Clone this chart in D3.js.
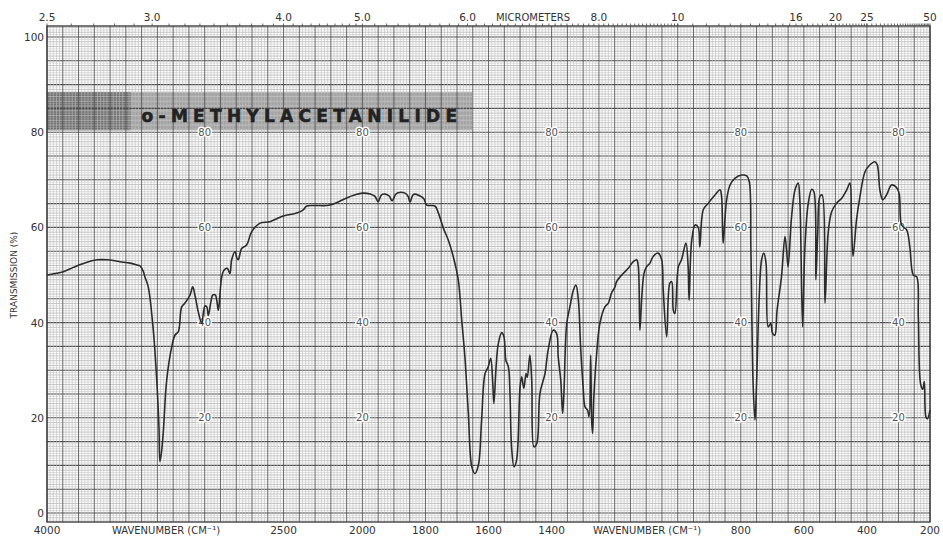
<!DOCTYPE html>
<html><head><meta charset="utf-8">
<script src="https://cdn.jsdelivr.net/npm/d3@7/dist/d3.min.js"></script>
<style>body{margin:0;background:#fff;} svg{display:block;} text{font-family:"DejaVu Sans",sans-serif;}</style>
</head><body><svg id="c" width="943" height="538"></svg>
<script>
// ---- data ----
const wavenumber = [4000,3950,3897,3833,3780,3727,3680,3621,3570,3537,3474,3430,3410,3390,3379,3358,3326,3304,3290,3284,3275,3263,3241,3209,3188,3167,3146,3125,3093,3076,3062,3041,3019,3009,2998,2987,2977,2960,2949,2933,2914,2908,2892,2878,2857,2840,2829,2808,2795,2787,2765,2734,2702,2649,2586,2502,2417,2375,2353,2300,2205,2100,2050,2000,1975,1960,1950,1940,1928,1915,1906,1895,1887,1865,1855,1849,1840,1833,1817,1805,1796,1770,1759,1743,1728,1712,1696,1685,1675,1664,1653,1643,1632,1622,1611,1601,1593,1587,1583,1576,1569,1558,1551,1545,1537,1532,1527,1519,1511,1500,1495,1488,1481,1477,1469,1463,1456,1447,1437,1421,1411,1395,1384,1379,1371,1365,1361,1352,1342,1331,1323,1315,1308,1300,1294,1286,1281,1276,1273,1270,1266,1257,1247,1231,1220,1210,1199,1194,1183,1173,1157,1141,1130,1125,1120,1114,1107,1099,1088,1078,1062,1051,1046,1035,1025,1019,1014,1009,998,988,974,967,964,956,945,935,930,919,903,882,866,861,856,845,834,819,797,781,773,768,761,755,750,742,734,727,720,713,705,699,692,685,671,660,655,650,639,628,618,613,604,597,586,575,568,562,556,549,542,533,523,512,496,480,464,454,449,444,433,422,406,391,375,367,359,350,338,322,308,298,290,274,264,253,242,237,230,223,218,213,208,200];
const transmission = [50.0,50.3,50.7,51.6,52.3,52.9,53.2,53.2,53.0,52.8,52.5,52.1,51.9,50.8,49.6,47.5,38.4,27.9,18,10.8,12.5,16.8,27.9,34.9,37.4,38.1,43.3,44.1,45.8,47.5,45.8,42.3,39.8,41.9,43.5,43.3,41.5,44.5,45.8,45.8,42.6,44.0,49.6,51.0,51.4,50.3,53.2,54.9,53.5,53.2,55.6,56.3,59.1,60.9,61.2,62.4,63.0,63.7,64.5,64.6,64.7,66.2,66.8,67.2,67.0,66.5,65.4,66.8,67.0,66.6,65.6,66.9,67.3,67.2,66.5,65.3,66.8,67.0,66.6,66.0,64.7,64.5,63.0,59.8,57.4,53.9,49.0,40.5,32.8,20.9,9.7,8.3,10.1,19.5,29.3,30.7,32.5,27.9,23.0,30.7,35.6,37.9,37.0,32.1,30.7,25.1,13.9,9.7,11.1,26.5,28.6,26.2,29.3,28.5,33.2,27.9,13.9,14.6,25.1,29.3,34.2,38.4,37.7,32.8,27.9,20.9,25.1,39.8,43.3,46.8,47.9,44.7,34.9,26.5,22.3,21.6,20.2,33.2,19.5,16.7,24.4,33.5,39.8,43.3,44.1,46.2,47.5,48.6,49.6,50.3,51.4,52.8,53.2,51.8,38.4,45.4,50.3,51.7,52.5,53.9,54.6,53.2,46.8,37.0,48.3,48.6,42.6,41.9,51.7,53.2,56.7,51.7,44.7,57.0,60.5,60.0,55.9,63.7,65.1,66.8,67.9,66.5,56.7,65.8,68.9,70.3,71.0,70.8,69.6,55.3,27.2,19.5,27.2,44.7,53.2,54.6,52.5,39.1,39.8,37.7,37.4,42.6,49.6,58.1,55.3,51.7,62.2,67.9,69.3,66.0,39.1,55.3,65.1,68.0,67.5,49.0,58.8,66.5,66.8,44.1,58.8,63.3,65.1,66.1,67.9,69.3,60.9,53.9,61.6,66.5,71.7,73.1,73.8,73.1,67.9,65.8,66.8,68.9,68.5,67.2,60.5,59.5,55.9,50.0,49.6,41.2,27.2,26.0,27.6,20.2,19.8,21.6];
const yTickValues = [0,20,40,60,80,100];
const bottomTickLabels = [4000,2500,2000,1800,1600,1400,800,600,400,200];
const topTickLabels = ["2.5","3.0","4.0","5.0","6.0","8.0","10","16","20","25","50"];
const innerLabelColumns = [3000,2000,1400,800,300];
const innerLabelValues = [20,40,60,80];
const chartTitle = "o-METHYLACETANILIDE";

// ---- scales ----
const x = d3.scaleLinear().domain([4000,2000,200]).range([47,362.4,930]);
const y = d3.scaleLinear().domain([0,100]).range([513,37]);
const plotTop = 26, plotBottom = 522, plotLeft = x(4000), plotRight = x(200);
const svg = d3.select("#c");
svg.append("rect").attr("width",943).attr("height",538).attr("fill","#fff");

// title box background (under grid)
const tb = svg.append("g");
tb.append("rect").attr("x",plotLeft).attr("y",y(88.4)).attr("width",x(1652)-plotLeft).attr("height",y(80.4)-y(88.4)).attr("fill","#a6a6a6");
tb.append("rect").attr("x",plotLeft).attr("y",y(88.4)).attr("width",x(3470)-plotLeft).attr("height",y(80.4)-y(88.4)).attr("fill","#707070");

// ---- grid ----
const grid = svg.append("g");
const hVals = d3.range(-1.5, 102.01, 0.5);
grid.selectAll("line.h").data(hVals).join("line")
  .attr("x1",plotLeft).attr("x2",plotRight)
  .attr("y1",d=>y(d)).attr("y2",d=>y(d))
  .attr("stroke",d=> (Math.abs(d%5)<1e-9)?"#4a4a4a":(Math.abs(d%1)<1e-9?"#a0a0a0":"#cacaca"))
  .attr("stroke-width",d=> (Math.abs(d%5)<1e-9)?1.1:0.6);
const vLeft = d3.range(4000, 2000, -20);
const vRight = d3.range(2000, 199, -10);
grid.selectAll("line.v").data(vLeft.concat(vRight)).join("line")
  .attr("y1",plotTop).attr("y2",plotBottom)
  .attr("x1",d=>x(d)).attr("x2",d=>x(d))
  .attr("stroke",d=>{
    const big = d>2000 ? d%100===0 : d%50===0;
    return big ? "#5a5a5a" : "#bebebe";})
  .attr("stroke-width",d=>{
    const big = d>2000 ? d%100===0 : d%50===0;
    return big ? 0.9 : 0.6;});

// title text
svg.append("text").attr("x",x(3400)).attr("y",y(82.2)).attr("textLength",x(1700)-x(3400))
  .attr("lengthAdjust","spacing").attr("font-size",17).attr("font-weight","bold")
  .attr("fill","#222").attr("stroke","#222").attr("stroke-width",0.6).text(chartTitle);

// inner value labels
const inner = svg.append("g");
innerLabelColumns.forEach(c=>{
  innerLabelValues.forEach(v=>{
    inner.append("text").attr("x",x(c)).attr("y",y(v)+3.5).attr("text-anchor","middle")
      .attr("font-size",10).attr("fill","#555").attr("stroke","#fff").attr("stroke-width",3)
      .attr("paint-order","stroke").text(v);
  });
});

// border
svg.append("rect").attr("x",plotLeft).attr("y",plotTop).attr("width",plotRight-plotLeft)
  .attr("height",plotBottom-plotTop).attr("fill","none").attr("stroke","#333").attr("stroke-width",1.3);

// spectrum
const line = d3.line().x((d,i)=>x(wavenumber[i])).y((d,i)=>y(transmission[i])).curve(d3.curveCatmullRom.alpha(0.5));
svg.append("path").datum(wavenumber).attr("d",line).attr("fill","none")
  .attr("stroke","#2b2b2b").attr("stroke-width",1.6).attr("stroke-linejoin","round");

// left axis
const la = svg.append("g");
yTickValues.forEach(v=>{
  la.append("text").attr("x",44).attr("y",y(v)+4).attr("text-anchor","end")
    .attr("font-size",10.5).attr("fill","#333").text(v);
});
la.append("text").attr("transform",`translate(17,${y(50)}) rotate(-90)`).attr("text-anchor","middle")
  .attr("font-size",9).attr("fill","#333").text("TRANSMISSION (%)");

// bottom axis
const ba = svg.append("g");
bottomTickLabels.forEach(v=>{
  ba.append("text").attr("x",x(v)).attr("y",534).attr("text-anchor","middle")
    .attr("font-size",10.5).attr("fill","#333").text(v);
});
ba.append("text").attr("x",166).attr("y",534).attr("text-anchor","middle").attr("font-size",10).attr("fill","#333").text("WAVENUMBER (CM⁻¹)");
ba.append("text").attr("x",647).attr("y",534).attr("text-anchor","middle").attr("font-size",10).attr("fill","#333").text("WAVENUMBER (CM⁻¹)");

// top axis (micrometers)
const ta = svg.append("g");
const microTicks = d3.range(2.5,10.001,0.1).concat(d3.range(10,25.001,0.5)).concat(d3.range(25,50.001,1));
ta.selectAll("line").data(microTicks).join("line")
  .attr("x1",d=>x(10000/d)).attr("x2",d=>x(10000/d))
  .attr("y1",plotTop).attr("y2",plotTop-2.5).attr("stroke","#444").attr("stroke-width",0.8);
topTickLabels.forEach(s=>{
  ta.append("text").attr("x",x(10000/parseFloat(s))).attr("y",21).attr("text-anchor","middle")
    .attr("font-size",10.5).attr("fill","#333").text(s);
});
ta.append("text").attr("x",533).attr("y",21).attr("text-anchor","middle").attr("font-size",10).attr("fill","#333").text("MICROMETERS");
</script></body></html>
